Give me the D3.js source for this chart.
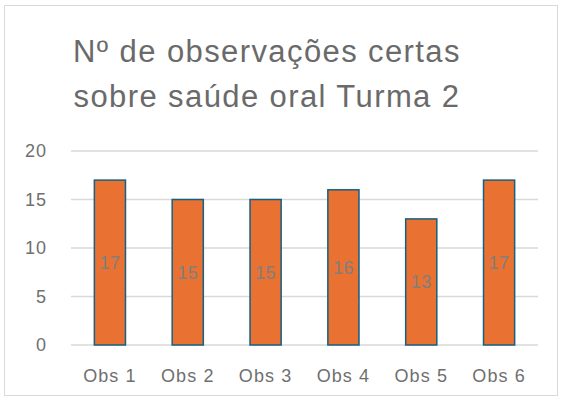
<!DOCTYPE html>
<html>
<head>
<meta charset="utf-8">
<script src="https://cdn.jsdelivr.net/npm/d3@7"></script>
<style>
  body { margin: 0; background: #fff; }
  text { font-family: "Liberation Sans", Arial, sans-serif; }
</style>
</head>
<body>
<div id="chart"></div>
<script>
var categories = ["Obs 1", "Obs 2", "Obs 3", "Obs 4", "Obs 5", "Obs 6"];
var values = [17, 15, 15, 16, 13, 17];
var yTicks = [0, 5, 10, 15, 20];
var titleLines = ["Nº de observações certas", "sobre saúde oral Turma 2"];

var width = 564, height = 407;
var margin = { top: 151, right: 26, bottom: 62, left: 71 };

var svg = d3.select("#chart").append("svg")
    .attr("width", width)
    .attr("height", height);

// chart frame
svg.append("rect")
    .attr("x", 4.5).attr("y", 5.5)
    .attr("width", 553).attr("height", 390)
    .attr("fill", "#fff")
    .attr("stroke", "#d9d9d9");

// title
svg.append("g").selectAll("text")
    .data(titleLines)
    .enter().append("text")
    .attr("x", 267)
    .attr("y", function (d, i) { return 62 + i * 45; })
    .attr("text-anchor", "middle")
    .attr("font-size", "31px")
    .attr("letter-spacing", "1.4px")
    .attr("fill", "#6a6a6a")
    .text(function (d) { return d; });

var g = svg.append("g")
    .attr("transform", "translate(" + margin.left + "," + margin.top + ")");

var innerW = width - margin.left - margin.right;
var innerH = height - margin.top - margin.bottom;

var x = d3.scaleBand()
    .domain(categories)
    .range([0, innerW])
    .paddingInner(0.6)
    .paddingOuter(0.3);

var y = d3.scaleLinear()
    .domain([0, 20])
    .range([innerH, 0]);

// gridlines
g.append("g").selectAll("line")
    .data(yTicks)
    .enter().append("line")
    .attr("x1", 0).attr("x2", innerW)
    .attr("y1", function (d) { return y(d); })
    .attr("y2", function (d) { return y(d); })
    .attr("stroke", "#d9d9d9")
    .attr("stroke-width", 1.5);

// y axis labels
var yAxis = g.append("g")
    .call(d3.axisLeft(y).tickValues(yTicks).tickSize(0).tickPadding(24));
yAxis.select(".domain").remove();
yAxis.selectAll("text")
    .attr("font-size", "18px")
    .attr("letter-spacing", "1px")
    .attr("fill", "#6f6f6f")
    .attr("font-family", "Liberation Sans, Arial, sans-serif");

// x axis labels
var xAxis = g.append("g")
    .attr("transform", "translate(0," + innerH + ")")
    .call(d3.axisBottom(x).tickSize(0).tickPadding(24));
xAxis.select(".domain").remove();
xAxis.selectAll("text")
    .attr("font-size", "18px")
    .attr("letter-spacing", "1.1px")
    .attr("fill", "#6f6f6f")
    .attr("font-family", "Liberation Sans, Arial, sans-serif");

// bars
g.append("g").selectAll("rect")
    .data(values)
    .enter().append("rect")
    .attr("x", function (d, i) { return x(categories[i]); })
    .attr("y", function (d) { return y(d); })
    .attr("width", x.bandwidth())
    .attr("height", function (d) { return y(0) - y(d); })
    .attr("fill", "#E97132")
    .attr("stroke", "#156082")
    .attr("stroke-width", 1.5);

// value labels
g.append("g").selectAll("text")
    .data(values)
    .enter().append("text")
    .attr("x", function (d, i) { return x(categories[i]) + x.bandwidth() / 2; })
    .attr("y", function (d) { return (y(d) + y(0)) / 2; })
    .attr("dy", "0.35em")
    .attr("text-anchor", "middle")
    .attr("font-size", "18px")
    .attr("letter-spacing", "0.5px")
    .attr("fill", "#7f7f7f")
    .text(function (d) { return d; });
</script>
</body>
</html>
